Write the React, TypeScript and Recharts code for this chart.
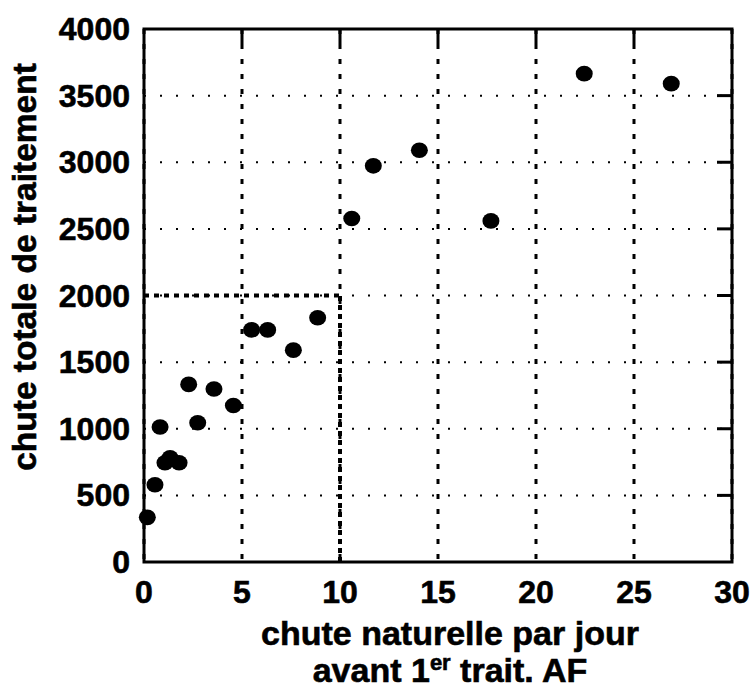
import React from "react";
import {
  ScatterChart, Scatter, XAxis, YAxis, CartesianGrid, ReferenceArea, ReferenceLine,
} from "recharts";

// chute naturelle par jour (x) / chute totale de traitement (y)
const chuteNaturelle = [0.17, 0.56, 0.82, 1.07, 1.33, 1.79, 2.28, 2.74, 3.57, 4.56, 5.49, 6.31, 7.62, 8.86, 10.6, 11.7, 14.05, 17.7, 22.46, 26.9];
const chuteTotale = [335, 580, 1013, 745, 782, 745, 1333, 1045, 1298, 1175, 1742, 1742, 1590, 1833, 2578, 2973, 3090, 2560, 3665, 3590];

const xTicks = [0, 5, 10, 15, 20, 25, 30];
const yTicks = [0, 500, 1000, 1500, 2000, 2500, 3000, 3500, 4000];

// seuil marqué en tirets épais
const seuilX = 10;
const seuilY = 2000;

const FONT = "'Liberation Sans', Arial, Helvetica, sans-serif";
const W = 751;
const H = 689;
const M = { top: 29, right: 19, bottom: 0, left: 0 };
const TICK_LEN = 15;
// léger contour pour épaissir le gras comme sur l'original
const HEAVY = { stroke: "#000", strokeWidth: 0.6 };

const points = chuteNaturelle.map((x, i) => ({ x, y: chuteTotale[i] }));

function XTick(props: any) {
  const { x, y, payload } = props;
  const v = payload.value;
  const inner = v !== xTicks[0] && v !== xTicks[xTicks.length - 1];
  return (
    <g>
      {inner && <line x1={x} y1={M.top} x2={x} y2={M.top + TICK_LEN} stroke="#000" strokeWidth={3} />}
      <text x={x} y={y + 41} textAnchor="middle" fontFamily={FONT} fontWeight="bold" fontSize={32} fill="#000" {...HEAVY}>
        {v}
      </text>
    </g>
  );
}

function YTick(props: any) {
  const { x, y, payload } = props;
  const v = payload.value;
  const inner = v !== yTicks[0] && v !== yTicks[yTicks.length - 1];
  const right = W - M.right;
  return (
    <g>
      {inner && <line x1={right} y1={y} x2={right - TICK_LEN} y2={y} stroke="#000" strokeWidth={3} />}
      <text x={x - 14} y={y + 11} textAnchor="end" fontFamily={FONT} fontWeight="bold" fontSize={32} fill="#000" {...HEAVY}>
        {v}
      </text>
    </g>
  );
}

function XLabel() {
  const cx = 450;
  return (
    <text textAnchor="middle" fontFamily={FONT} fontWeight="bold" fontSize={34} fill="#000" {...HEAVY}>
      <tspan x={cx} y={645}>chute naturelle par jour</tspan>
      <tspan x={cx} y={682}>
        avant 1<tspan fontSize={22} dy={-12}>er</tspan>
        <tspan dy={12}> trait. AF</tspan>
      </tspan>
    </text>
  );
}

function YLabel() {
  const cy = 267;
  return (
    <text
      x={36} y={cy} transform={`rotate(-90 36 ${cy})`} textAnchor="middle"
      fontFamily={FONT} fontWeight="bold" fontSize={33.5} fill="#000" {...HEAVY}
    >
      chute totale de traitement
    </text>
  );
}

function Dot(props: any) {
  const { cx, cy } = props;
  return <ellipse cx={cx} cy={cy} rx={8.5} ry={7.8} fill="#000" />;
}

export default function App() {
  return (
    <div style={{ position: "absolute", left: 0, top: 0, width: W, height: H, background: "#fff" }}>
      <ScatterChart width={W} height={H} margin={M}>
        <CartesianGrid vertical={false} stroke="#000" strokeWidth={2} strokeDasharray="2 14" />
        <CartesianGrid horizontal={false} stroke="#000" strokeWidth={3} strokeDasharray="5 10" />
        <XAxis
          type="number" dataKey="x" domain={[0, 30]} ticks={xTicks} interval={0}
          height={H - 562} axisLine={false} tickLine={false} tickSize={0} tickMargin={0}
          tick={<XTick />} label={<XLabel />}
        />
        <YAxis
          type="number" dataKey="y" domain={[0, 4000]} ticks={yTicks} interval={0}
          width={144} axisLine={false} tickLine={false} tickSize={0} tickMargin={0}
          tick={<YTick />} label={<YLabel />}
        />
        <ReferenceLine
          segment={[{ x: 0, y: seuilY }, { x: seuilX, y: seuilY }]}
          stroke="#000" strokeWidth={4} strokeDasharray="5 5"
        />
        <ReferenceLine
          segment={[{ x: seuilX, y: 0 }, { x: seuilX, y: seuilY }]}
          stroke="#000" strokeWidth={4} strokeDasharray="5 4"
        />
        <ReferenceArea
          x1={0} x2={30} y1={0} y2={4000}
          fill="none" fillOpacity={0} stroke="#000" strokeWidth={3}
        />
        <Scatter data={points} shape={<Dot />} isAnimationActive={false} />
      </ScatterChart>
    </div>
  );
}
